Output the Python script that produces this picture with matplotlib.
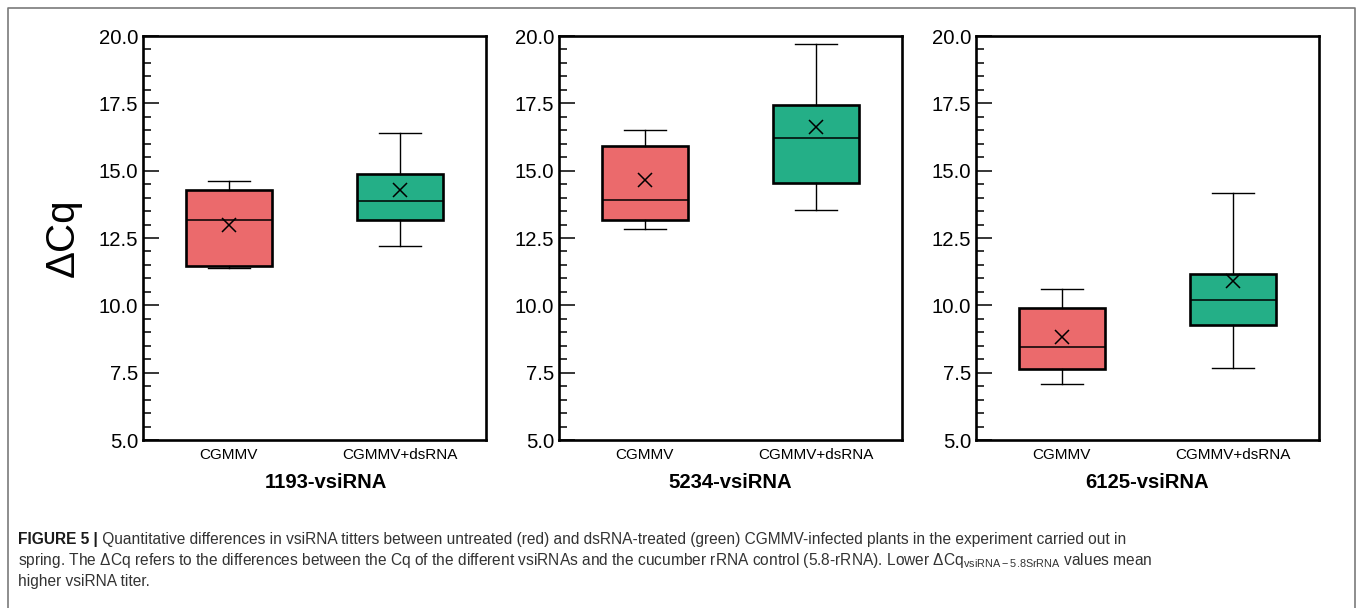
import matplotlib
matplotlib.use("Agg")
import matplotlib.pyplot as plt
from matplotlib import font_manager
from matplotlib.lines import Line2D
from matplotlib.ticker import MultipleLocator

# --- box summary values (dCq) per vsiRNA, [CGMMV, CGMMV+dsRNA]
groups = ["CGMMV", "CGMMV+dsRNA"]
targets = ["1193-vsiRNA", "5234-vsiRNA", "6125-vsiRNA"]

whis_lo = [[11.39, 12.20], [12.85, 13.54], [7.07, 7.66]]
q1 = [[11.46, 13.17], [13.16, 14.53], [7.65, 9.26]]
median = [[13.16, 13.87], [13.90, 16.21], [8.45, 10.19]]
q3 = [[14.28, 14.89], [15.92, 17.43], [9.91, 11.17]]
whis_hi = [[14.60, 16.40], [16.51, 19.71], [10.62, 14.16]]
mean = [[12.98, 14.28], [14.65, 16.62], [8.83, 10.90]]

box_colors = ["#EB6A6C", "#24AF87"]

caption_head = "FIGURE 5 |"
caption_lines = [
    " Quantitative differences in vsiRNA titters between untreated (red) and dsRNA-treated (green) "
    "CGMMV-infected plants in the experiment carried out in",
    "spring. The \u0394Cq refers to the differences between the Cq of the different vsiRNAs and the "
    "cucumber rRNA control (5.8-rRNA). Lower \u0394Cq$_{\\mathregular{vsiRNA\u22125.8SrRNA}}$ values mean",
    "higher vsiRNA titer.",
]

plt.rcParams["font.family"] = ["Liberation Sans", "DejaVu Sans"]
plt.rcParams["mathtext.fontset"] = "custom"
plt.rcParams["mathtext.rm"] = "Liberation Sans"

try:
    font_manager.findfont("Liberation Sans Narrow", fallback_to_default=False)
    cap_family = ["Liberation Sans Narrow", "DejaVu Sans"]
except ValueError:
    cap_family = ["Liberation Sans", "DejaVu Sans"]

W, H = 1357, 608
fig = plt.figure(figsize=(W / 100, H / 100), dpi=100)

ax_left = [143, 559, 976]
ax_w = 343
ax_top, ax_bot = 36, 440
title_x = [0.534, 0.5, 0.5]  # first panel's title sits a little right of centre

for i, name in enumerate(targets):
    ax = fig.add_axes([ax_left[i] / W, 1 - ax_bot / H, ax_w / W, (ax_bot - ax_top) / H])
    stats = []
    for j, g in enumerate(groups):
        stats.append(dict(label=g, whislo=whis_lo[i][j], q1=q1[i][j], med=median[i][j],
                          q3=q3[i][j], whishi=whis_hi[i][j], mean=mean[i][j], fliers=[]))
    bp = ax.bxp(stats, positions=[1, 2], widths=0.5, patch_artist=True, showmeans=True,
                boxprops=dict(linewidth=1.9, edgecolor="black"),
                medianprops=dict(color="black", linewidth=1.1),
                whiskerprops=dict(color="black", linewidth=1.0),
                capprops=dict(color="black", linewidth=1.0),
                capwidths=0.245,
                meanprops=dict(marker="x", markersize=10, markeredgecolor="black",
                               markeredgewidth=1.1))
    for patch, c in zip(bp["boxes"], box_colors):
        patch.set_facecolor(c)

    ax.set_xlim(0.5, 2.5)
    ax.set_ylim(5, 20)
    ax.yaxis.set_major_locator(MultipleLocator(2.5))
    ax.yaxis.set_minor_locator(MultipleLocator(0.5))
    ax.yaxis.set_major_formatter(matplotlib.ticker.FormatStrFormatter("%.1f"))
    ax.tick_params(axis="y", which="major", direction="in", length=11.5, width=1.1,
                   labelsize=14.6, pad=3.5, colors="black")
    ax.tick_params(axis="y", which="minor", direction="in", length=6, width=1.1)
    ax.tick_params(axis="x", length=0, labelsize=11, pad=6)
    for sp in ax.spines.values():
        sp.set_linewidth(1.9)
    ax.text(title_x[i], -0.104, name, transform=ax.transAxes, ha="center", va="center",
            fontsize=14.6, fontweight="bold")

fig.text(63 / W, 1 - 238 / H, "\u0394Cq", rotation=90, ha="center", va="center", fontsize=29)

# caption, bold head followed by plain text
fig.canvas.draw()
r = fig.canvas.get_renderer()
cap_x = 18 / W
cap_size = 11.2
baselines = [544, 565, 586]
head = fig.text(cap_x, 1 - baselines[0] / H, caption_head, fontsize=cap_size, fontweight="bold",
                family=cap_family, color="#1a1a1a", va="baseline")
hb = head.get_window_extent(r)
for k, line in enumerate(caption_lines):
    x0 = hb.x1 / W if k == 0 else cap_x
    fig.text(x0, 1 - baselines[k] / H, line, fontsize=cap_size, family=cap_family,
             color="#333333", va="baseline")

# open frame round the figure
fx0, fx1, fy1 = 8 / W, 1355 / W, 1 - 8 / H
fig.add_artist(Line2D([fx0, fx0, fx1, fx1], [-0.05, fy1, fy1, -0.05], transform=fig.transFigure,
                      color="#7a7a7a", linewidth=1.2))

fig.savefig("out.png", dpi=100)
